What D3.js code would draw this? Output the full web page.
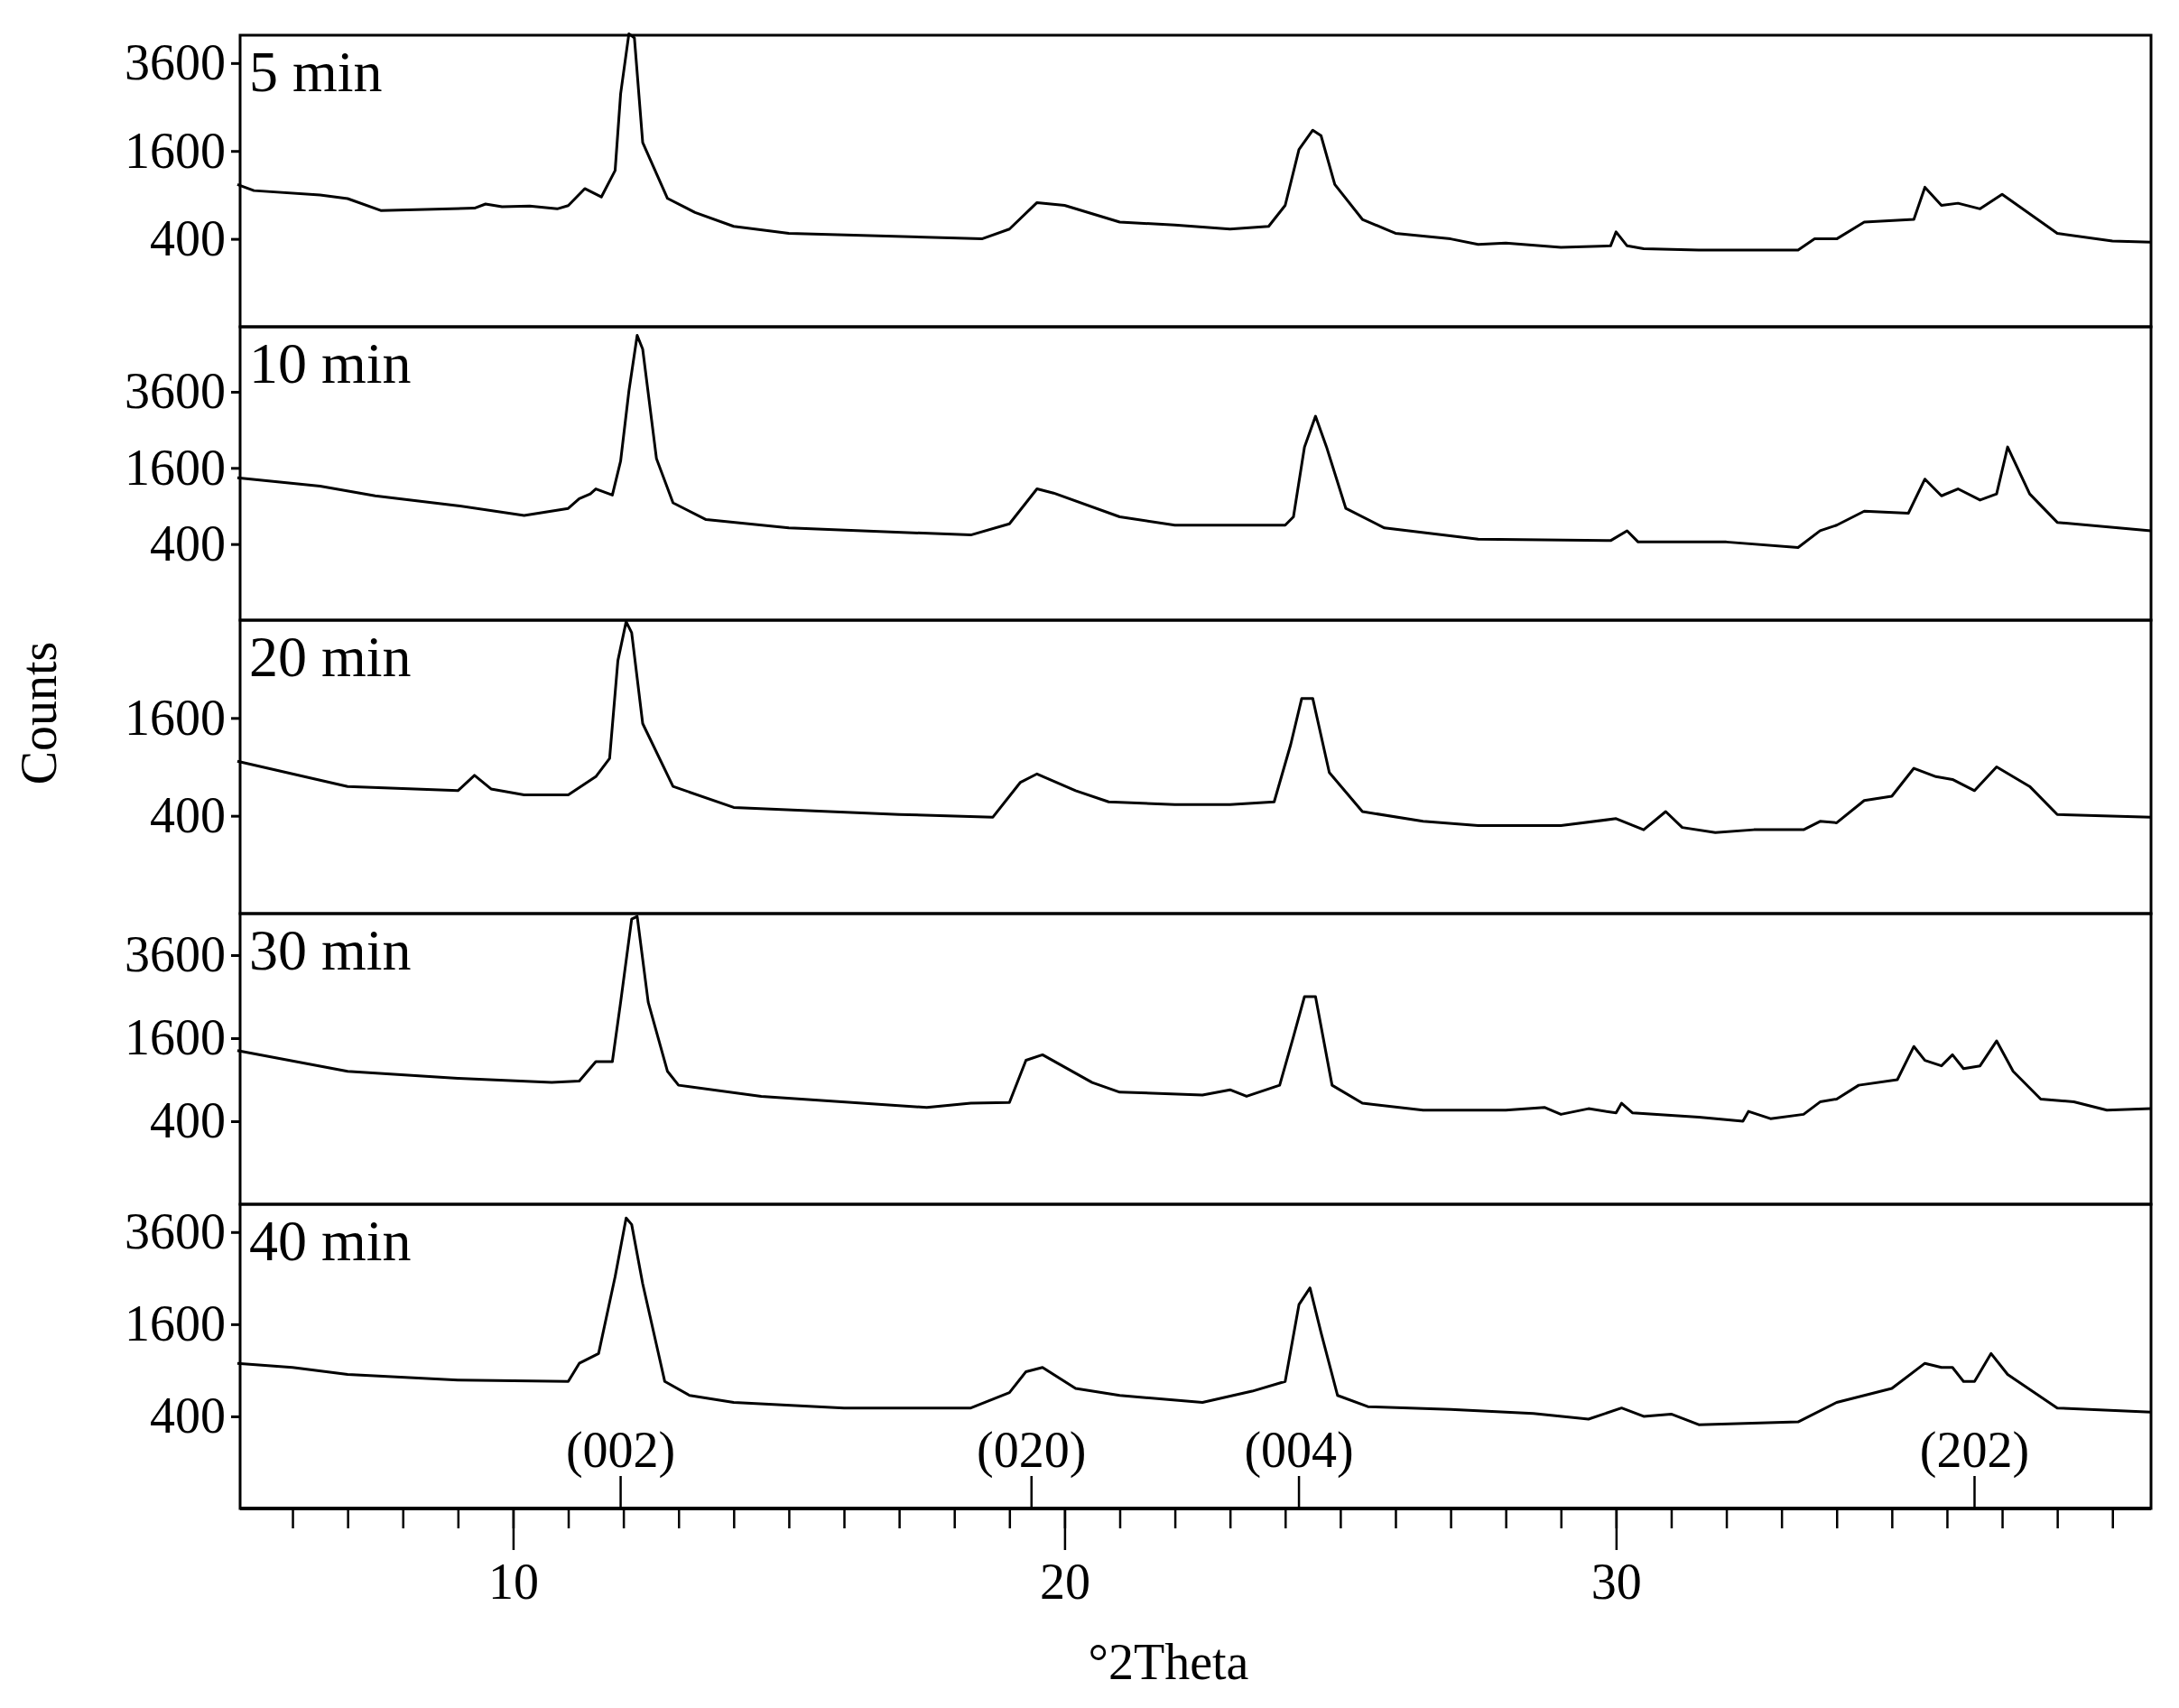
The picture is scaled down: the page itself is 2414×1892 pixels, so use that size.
<!DOCTYPE html>
<html><head><meta charset="utf-8">
<script src="https://cdn.jsdelivr.net/npm/d3@7"></script>
<style>body{margin:0;background:#fff}text{font-family:"Liberation Serif","DejaVu Serif",serif}</style>
</head><body><svg id="c" width="2414" height="1892"></svg>
<script>
const panelLabels=["5 min","10 min","20 min","30 min","40 min"];
const panelMax=[4400,5940,3600,4900,4360];
const panelTicks=[[400,1600,3600],[400,1600,3600],[400,1600],[400,1600,3600],[400,1600,3600]];
const s5=[[5,1048],[5.3,960],[6.5,900],[7,850],[7.6,700],[9.3,728],[9.5,780],[9.8,745],[10.3,755],[10.8,720],[11.0,760],[11.3,988],[11.6,872],[11.85,1264],[11.95,2810],[12.1,4444],[12.2,4318],[12.35,1756],[12.8,853],[13.3,677],[14,522],[15,452],[18.5,400],[19,494],[19.5,798],[20,763],[21,567],[22,537],[23,494],[23.7,522],[24.0,763],[24.25,1625],[24.5,2000],[24.65,1891],[24.9,1048],[25.4,597],[26,452],[27,400],[27.5,351],[28,363],[29,327],[29.9,339],[30,466],[30.2,339],[30.5,316],[31.5,305],[33.3,305],[33.6,400],[34,400],[34.5,567],[35.4,597],[35.6,1008],[35.9,763],[36.2,790],[36.6,720],[37,909],[38,452],[39,380],[39.7,370]];
const s10=[[5,1401],[6.5,1241],[7.5,1067],[9,905],[10.2,757],[11,862],[11.2,1019],[11.4,1100],[11.5,1190],[11.8,1080],[11.95,1750],[12.1,3622],[12.25,5600],[12.35,5070],[12.6,1800],[12.9,950],[13.5,698],[15,587],[18.3,501],[19.0,641],[19.5,1190],[19.8,1115],[21,737],[22,623],[24,623],[24.15,737],[24.35,2070],[24.55,2870],[24.75,2070],[25.1,862],[25.8,587],[27.5,453],[29.9,437],[30.2,552],[30.4,422],[32,422],[33.3,364],[33.7,552],[34,623],[34.5,820],[35.3,790],[35.6,1374],[35.9,1067],[36.2,1190],[36.6,996],[36.9,1100],[37.1,2070],[37.5,1100],[38,660],[39.7,552]];
const s20=[[5,970],[7,676],[9,632],[9.3,800],[9.6,650],[10.2,590],[11,590],[11.5,784],[11.75,1006],[11.9,2675],[12.05,3565],[12.15,3300],[12.35,1510],[12.9,676],[14,471],[17,411],[18.7,389],[19.2,721],[19.5,816],[20.2,632],[20.8,522],[22,497],[23,497],[23.8,522],[24.1,1195],[24.3,1936],[24.5,1936],[24.8,832],[25.4,435],[26.5,356],[27.5,324],[29,324],[30,377],[30.5,294],[30.9,435],[31.2,310],[31.8,275],[32.5,294],[33.4,294],[33.7,356],[34,345],[34.5,535],[35,576],[35.4,883],[35.8,784],[36.1,752],[36.5,632],[36.9,900],[37.5,676],[38,411],[39.7,389]];
const s30=[[5,1369],[7,1024],[9,920],[10.7,860],[11.2,880],[11.5,1179],[11.8,1179],[11.95,2368],[12.15,4715],[12.25,4807],[12.45,2368],[12.8,1024],[13,822],[14.5,676],[17.5,544],[18.3,592],[19.0,600],[19.3,1202],[19.6,1296],[20.5,860],[21,729],[22.5,693],[23.0,760],[23.3,676],[23.9,822],[24.15,1627],[24.35,2500],[24.55,2500],[24.85,822],[25.4,592],[26.5,514],[28,514],[28.7,544],[29,469],[29.5,530],[30,484],[30.1,592],[30.3,484],[31.5,441],[32.3,400],[32.4,500],[32.8,425],[33.4,469],[33.7,608],[34,642],[34.4,822],[35.1,900],[35.4,1444],[35.6,1200],[35.9,1111],[36.1,1296],[36.3,1067],[36.6,1111],[36.9,1547],[37.2,1024],[37.7,642],[38.3,608],[38.9,514],[39.7,530]];
const s40=[[5,993],[6,937],[7,846],[9,777],[11,760],[11.2,993],[11.55,1131],[11.85,2530],[12.05,3973],[12.15,3800],[12.35,2380],[12.75,760],[13.2,602],[14,530],[16,476],[18.3,476],[19.0,632],[19.3,882],[19.6,937],[20.2,679],[21,602],[22.5,530],[23.4,648],[24.0,760],[24.25,1958],[24.45,2292],[24.65,1458],[24.95,602],[25.5,489],[27,463],[28.5,425],[29.5,376],[30.1,476],[30.5,400],[31.0,420],[31.5,331],[33.3,353],[34.0,530],[35,679],[35.6,993],[35.9,937],[36.1,937],[36.3,760],[36.5,760],[36.8,1131],[37.1,846],[38,476],[39.7,437]];
const series=[s5,s10,s20,s30,s40];
const peakLabels=["(002)","(020)","(004)","(202)"];
const peakPos=[11.95,19.4,24.25,36.5];
const xMajor=[10,20,30];

const svg=d3.select("#c");
const L=266,R=2383;
const tops=[39,362,687,1012,1334], bottoms=[362,687,1012,1334,1671];
const x=d3.scaleLinear().domain([5.05,39.7]).range([L,R]);
series.forEach((s,i)=>{
  const y=d3.scaleSqrt().domain([0,panelMax[i]]).range([bottoms[i],tops[i]]);
  const g=svg.append("g");
  g.append("path").datum(s).attr("fill","none").attr("stroke","#000").attr("stroke-width",3).attr("stroke-linejoin","round")
   .attr("d",d3.line().x(d=>x(d[0])).y(d=>y(d[1])));
  const ax=g.append("g").attr("transform",`translate(${L},0)`).call(d3.axisLeft(y).tickValues(panelTicks[i]).tickSize(10).tickPadding(6).tickFormat(d3.format("d")));
  ax.select(".domain").remove();
  ax.selectAll("line").attr("stroke-width",3);
  ax.selectAll("text").attr("font-size",56).attr("fill","#000").attr("font-family","Liberation Serif");
  g.append("text").attr("x",L+10).attr("y",tops[i]+62).attr("font-size",64).text(panelLabels[i]);
  g.append("rect").attr("x",L).attr("y",tops[i]).attr("width",R-L).attr("height",bottoms[i]-tops[i]).attr("fill","none").attr("stroke","#000").attr("stroke-width",3);
});
peakPos.forEach((p,i)=>{
  svg.append("line").attr("x1",x(p)).attr("x2",x(p)).attr("y1",1671).attr("y2",1635).attr("stroke","#000").attr("stroke-width",2.5);
  svg.append("text").attr("x",x(p)).attr("y",1625).attr("text-anchor","middle").attr("font-size",56).text(peakLabels[i]);
});
const xa=svg.append("g").attr("transform","translate(0,1671)").call(d3.axisBottom(x).tickValues(d3.range(6,40)).tickSize(22).tickFormat(""));
xa.select(".domain").remove(); xa.selectAll("line").attr("stroke-width",2.5);
const xm=svg.append("g").attr("transform","translate(0,1671)").call(d3.axisBottom(x).tickValues(xMajor).tickSize(46).tickPadding(14).tickFormat(d3.format("d")));
xm.select(".domain").remove(); xm.selectAll("line").attr("stroke-width",2.5);
xm.selectAll("text").attr("font-size",56).attr("fill","#000").attr("font-family","Liberation Serif");
svg.append("line").attr("x1",L).attr("x2",R).attr("y1",1671).attr("y2",1671).attr("stroke","#000").attr("stroke-width",4);
svg.append("text").attr("x",(L+R)/2-30).attr("y",1860).attr("text-anchor","middle").attr("font-size",56).text("°2Theta");
svg.append("text").attr("transform","translate(62,790) rotate(-90)").attr("text-anchor","middle").attr("font-size",56).text("Counts");
</script></body></html>
